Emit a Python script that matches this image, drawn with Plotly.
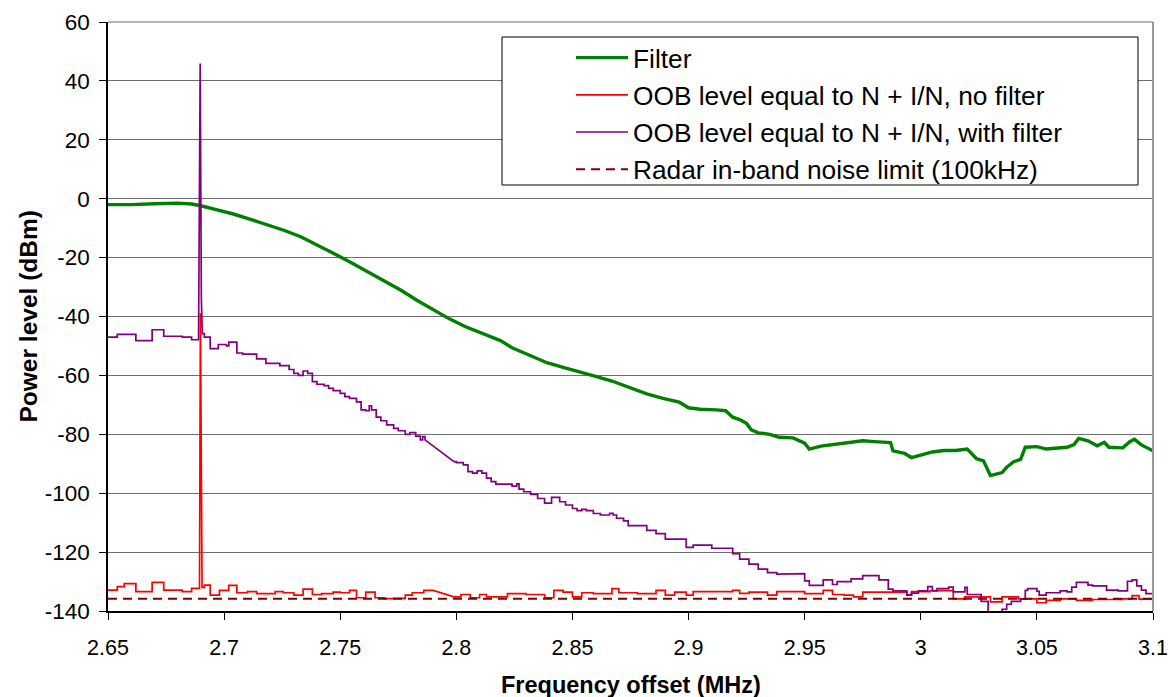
import plotly.graph_objects as go

# ---------------- data ----------------
filter_x = [2.650, 2.660, 2.670, 2.680, 2.686, 2.690, 2.697, 2.704, 2.711, 2.718,
            2.726, 2.733, 2.740, 2.747, 2.754, 2.761, 2.769, 2.776, 2.783, 2.790,
            2.797, 2.804, 2.812, 2.819, 2.824, 2.832, 2.839, 2.846, 2.853, 2.860,
            2.867, 2.875, 2.882, 2.889, 2.896, 2.900, 2.905, 2.912, 2.916, 2.919,
            2.922, 2.925, 2.927, 2.930, 2.935, 2.939, 2.945, 2.950, 2.952, 2.957,
            2.962, 2.968, 2.975, 2.980, 2.987, 2.988, 2.993, 2.996, 3.000, 3.005,
            3.010, 3.015, 3.020, 3.024, 3.027, 3.030, 3.035, 3.037, 3.040, 3.043,
            3.045, 3.050, 3.054, 3.060, 3.063, 3.066, 3.068, 3.072, 3.076, 3.079,
            3.081, 3.087, 3.090, 3.092, 3.095, 3.100]
filter_y = [-2.0, -2.0, -1.7, -1.5, -1.8, -2.4, -3.8, -5.2, -6.9, -8.7,
            -10.8, -12.9, -15.6, -18.5, -21.4, -24.5, -27.8, -31.0, -34.5, -37.8,
            -40.8, -43.5, -46.0, -48.2, -50.6, -53.2, -55.7, -57.3, -58.7, -60.3,
            -61.9, -64.2, -66.3, -67.8, -69.1, -71.0, -71.5, -71.7, -72.0, -74.2,
            -75.0, -76.3, -78.5, -79.5, -80.0, -81.0, -81.2, -83.0, -85.0, -84.0,
            -83.5, -82.8, -82.2, -82.5, -82.8, -85.6, -86.5, -87.9, -87.0, -86.0,
            -85.5, -85.5, -85.0, -88.3, -89.0, -94.0, -93.0, -91.2, -89.3, -88.5,
            -84.4, -84.2, -85.0, -84.6, -84.4, -83.5, -81.4, -82.2, -83.9, -82.7,
            -84.4, -84.6, -82.5, -81.7, -83.6, -85.6]

nofilt_x = [2.6500, 2.6540, 2.6570, 2.6620, 2.6690, 2.6740, 2.6820, 2.6860, 2.6894, 2.6898,
            2.6902, 2.6905, 2.6915, 2.6940, 2.6980, 2.7020, 2.7055, 2.7100, 2.7140, 2.7220,
            2.7255, 2.7300, 2.7340, 2.7380, 2.7420, 2.7470, 2.7500, 2.7540, 2.7570, 2.7610,
            2.7650, 2.7690, 2.7730, 2.7780, 2.7810, 2.7860, 2.7900, 2.7990, 2.8020, 2.8060,
            2.8100, 2.8130, 2.8220, 2.8300, 2.8380, 2.8420, 2.8460, 2.8500, 2.8540, 2.8590,
            2.8670, 2.8700, 2.8780, 2.8860, 2.8900, 2.8940, 2.8990, 2.9020, 2.9190, 2.9220,
            2.9260, 2.9340, 2.9380, 2.9500, 2.9580, 2.9620, 2.9670, 2.9710, 2.9750, 2.9940,
            2.9960, 3.0040, 3.0140, 3.0190, 3.0300, 3.0350, 3.0420, 3.0500, 3.0540, 3.0600,
            3.0670, 3.0740, 3.0870, 3.0910, 3.0940, 3.1000]
nofilt_y = [-132.9, -131.7, -130.7, -133.4, -130.3, -132.9, -133.4, -132.3, -132.3, -38.9,
            -132.0, -132.0, -131.2, -134.6, -133.0, -131.3, -133.8, -133.4, -134.1, -133.4,
            -133.8, -134.6, -132.6, -134.4, -134.1, -133.6, -133.8, -133.0, -135.5, -133.6,
            -135.5, -135.8, -135.7, -134.6, -133.8, -133.0, -133.0, -135.2, -134.4, -135.5,
            -134.4, -135.2, -134.1, -134.4, -135.5, -133.0, -133.6, -135.2, -133.8, -134.1,
            -132.4, -133.8, -134.1, -133.0, -134.6, -133.6, -134.6, -133.4, -133.0, -134.0,
            -133.6, -134.6, -133.4, -134.1, -133.0, -134.4, -134.6, -135.2, -133.6, -134.6,
            -133.4, -133.1, -135.9, -135.2, -136.9, -135.2, -135.9, -137.2, -136.4, -135.9,
            -136.4, -136.1, -135.9, -134.8, -136.0, -136.0]
nofilt_ramps = [2.6894, 2.6898, 2.7900]

withfilt_x = [2.6500, 2.6540, 2.6620, 2.6690, 2.6740, 2.6820, 2.6860, 2.6890, 2.6897, 2.6902,
              2.6906, 2.6915, 2.6940, 2.6975, 2.7010, 2.7020, 2.7055, 2.7080, 2.7140, 2.7180,
              2.7240, 2.7280, 2.7300, 2.7320, 2.7340, 2.7360, 2.7380, 2.7400, 2.7430, 2.7450,
              2.7470, 2.7500, 2.7520, 2.7540, 2.7570, 2.7590, 2.7610, 2.7625, 2.7635, 2.7655,
              2.7675, 2.7700, 2.7730, 2.7750, 2.7780, 2.7800, 2.7825, 2.7845, 2.7855, 2.7865,
              2.7990, 2.8000, 2.8030, 2.8050, 2.8070, 2.8090, 2.8110, 2.8130, 2.8150, 2.8170,
              2.8240, 2.8260, 2.8270, 2.8290, 2.8320, 2.8350, 2.8380, 2.8410, 2.8445, 2.8470,
              2.8500, 2.8520, 2.8540, 2.8560, 2.8590, 2.8620, 2.8660, 2.8675, 2.8690, 2.8720,
              2.8740, 2.8820, 2.8860, 2.8900, 2.8990, 2.9020, 2.9100, 2.9190, 2.9220, 2.9260,
              2.9300, 2.9340, 2.9380, 2.9450, 2.9500, 2.9520, 2.9580, 2.9620, 2.9640, 2.9700,
              2.9750, 2.9820, 2.9860, 2.9880, 2.9940, 2.9960, 2.9990, 3.0030, 3.0050, 3.0070,
              3.0120, 3.0140, 3.0190, 3.0200, 3.0260, 3.0290, 3.0350, 3.0370, 3.0390, 3.0430,
              3.0450, 3.0460, 3.0500, 3.0510, 3.0540, 3.0600, 3.0630, 3.0650, 3.0670, 3.0720,
              3.0740, 3.0800, 3.0850, 3.0890, 3.0910, 3.0930, 3.0950, 3.0970, 3.1000]
withfilt_y = [-47.0, -46.1, -48.2, -44.5, -46.7, -47.0, -47.9, -46.7, 45.9, -33.9,
              -45.8, -47.0, -50.9, -49.5, -50.0, -48.7, -52.4, -52.8, -54.4, -55.9,
              -56.7, -58.0, -59.3, -60.0, -58.5, -59.3, -62.1, -63.0, -63.5, -64.4,
              -65.2, -66.1, -67.2, -67.8, -69.0, -71.7, -72.0, -70.3, -71.7, -74.2,
              -75.4, -76.8, -78.0, -78.8, -80.0, -79.4, -80.6, -81.9, -80.8, -81.9,
              -89.3, -89.6, -90.4, -92.7, -93.2, -92.4, -93.2, -94.9, -96.1, -96.9,
              -97.6, -96.8, -98.6, -99.5, -100.4, -101.8, -103.4, -101.4, -102.9, -104.0,
              -105.2, -105.9, -105.5, -105.9, -106.9, -107.4, -106.8, -107.4, -108.5, -109.4,
              -111.0, -112.6, -113.7, -115.6, -118.4, -117.6, -118.7, -120.5, -122.4, -124.1,
              -125.8, -127.0, -127.5, -127.3, -129.8, -131.3, -129.4, -131.0, -130.0, -129.1,
              -128.0, -129.4, -132.6, -133.2, -134.6, -133.9, -133.2, -131.7, -133.2, -132.4,
              -131.9, -133.5, -132.0, -134.4, -136.7, -142.0, -139.4, -137.7, -136.7, -136.0,
              -133.0, -132.4, -133.3, -134.6, -133.8, -133.2, -133.5, -131.9, -130.3, -131.2,
              -131.5, -132.9, -133.2, -129.9, -129.4, -131.5, -132.9, -134.1, -134.1]
withfilt_ramps = [2.6890, 2.6897, 2.6902, 2.7865]

radar_x = [2.65, 3.10]
radar_y = [-135.8, -135.8]

names = ["Filter",
         "OOB level equal to N + I/N, no filter",
         "OOB level equal to N + I/N, with filter",
         "Radar in-band noise limit (100kHz)"]
x_title = "Frequency offset (MHz)"
y_title = "Power level (dBm)"

x_ticks = [2.65, 2.7, 2.75, 2.8, 2.85, 2.9, 2.95, 3.0, 3.05, 3.1]
x_tick_text = ["2.65", "2.7", "2.75", "2.8", "2.85", "2.9", "2.95", "3", "3.05", "3.1"]
y_ticks = [60, 40, 20, 0, -20, -40, -60, -80, -100, -120, -140]
y_tick_text = ["60", "40", "20", "0", "-20", "-40", "-60", "-80", "-100", "-120", "-140"]


def stepped(xs, ys, ramps):
    """Build polyline vertices of a horizontal-then-vertical step trace;
    segments starting at an x listed in ramps are drawn straight."""
    vx, vy = [], []
    for i in range(len(xs)):
        vx.append(xs[i])
        vy.append(ys[i])
        if i + 1 < len(xs) and xs[i] not in ramps:
            vx.append(xs[i + 1])
            vy.append(ys[i])
    return vx, vy


FONT = "Liberation Sans, Arial, sans-serif"

fig = go.Figure()
fig.add_trace(go.Scatter(x=filter_x, y=filter_y, mode="lines", name=names[0],
                         legendgroup="a", line=dict(color="#008000", width=3.4)))
nx, ny = stepped(nofilt_x, nofilt_y, nofilt_ramps)
fig.add_trace(go.Scatter(x=nx, y=ny, mode="lines", name=names[1],
                         legendgroup="b", line=dict(color="#FF0000", width=1.7)))
wx, wy = stepped(withfilt_x, withfilt_y, withfilt_ramps)
fig.add_trace(go.Scatter(x=wx, y=wy, mode="lines", name=names[2],
                         legendgroup="c", line=dict(color="#800080", width=1.7)))
fig.add_trace(go.Scatter(x=radar_x, y=radar_y, mode="lines", name=names[3],
                         legendgroup="d", line=dict(color="#800000", width=2, dash="9px,6px")))

L, R, T, B = 108, 15, 22, 86
W, H = 1168, 697
pw, ph = W - L - R, H - T - B


def px(xp):
    return (xp - L) / pw


def py(yp):
    return (H - B - yp) / ph


fig.update_layout(
    width=W, height=H,
    margin=dict(l=L, r=R, t=T, b=B, pad=0),
    paper_bgcolor="white", plot_bgcolor="white",
    font=dict(family=FONT, color="black", size=21),
    showlegend=True,
    legend=dict(x=px(571), y=py(34), xanchor="left", yanchor="top",
                bgcolor="rgba(0,0,0,0)", borderwidth=0,
                font=dict(family=FONT, size=26.3, color="black"),
                itemwidth=52, traceorder="grouped", tracegroupgap=0),
    xaxis=dict(range=[2.65, 3.1], tickvals=x_ticks, ticktext=x_tick_text,
               automargin=False,
               showgrid=False, zeroline=False, showline=True, linecolor="black",
               linewidth=1.5, ticks="outside", ticklen=7, tickcolor="black",
               tickfont=dict(size=21.5), ticklabelstandoff=9),
    yaxis=dict(range=[-140, 60], tickvals=y_ticks, ticktext=y_tick_text,
               showgrid=True, automargin=False,
               gridcolor="#6e6e6e", gridwidth=1, zeroline=False, showline=True,
               linecolor="black", linewidth=1.5, ticks="outside", ticklen=7,
               tickcolor="black", tickfont=dict(size=22.5), ticklabelstandoff=5),
    annotations=[
        dict(text="<b>" + x_title + "</b>", xref="paper", yref="paper",
             x=0.5, y=py(685), xanchor="center", yanchor="middle",
             showarrow=False, font=dict(size=23.5, family=FONT, color="black")),
        dict(text="<b>" + y_title + "</b>", xref="paper", yref="paper",
             x=px(28), y=0.5, xanchor="center", yanchor="middle", textangle=-90,
             showarrow=False, font=dict(size=24.5, family=FONT, color="black")),
    ],
    shapes=[
        dict(type="line", xref="paper", yref="paper", x0=1, x1=1, y0=0, y1=1,
             line=dict(color="#9a9a9a", width=2)),
        dict(type="line", xref="paper", yref="paper", x0=0, x1=1, y0=1, y1=1,
             line=dict(color="#6e6e6e", width=1)),
        dict(type="rect", xref="paper", yref="paper", x0=px(502), x1=px(1138),
             y0=py(185), y1=py(37), line=dict(color="black", width=1),
             fillcolor="white", layer="above"),
    ],
)

fig.write_html("out.html")
